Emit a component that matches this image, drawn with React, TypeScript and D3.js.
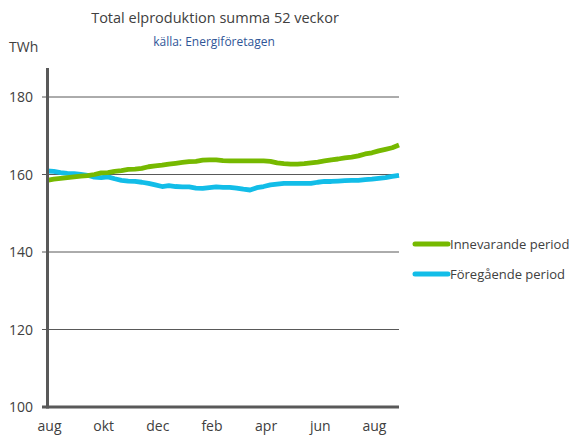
import React, { useEffect, useRef } from 'react';
import * as d3 from 'd3';

const monthLabels = ['aug', 'okt', 'dec', 'feb', 'apr', 'jun', 'aug'];
const labelEvery = 8;
const yTicks = [100, 120, 140, 160, 180];

const innevarande = [
  158.5, 158.8, 159.0, 159.2, 159.4, 159.6, 159.7, 160.0, 160.4, 160.5,
  160.8, 161.0, 161.3, 161.4, 161.6, 162.0, 162.2, 162.4, 162.7, 162.9,
  163.1, 163.3, 163.4, 163.7, 163.8, 163.8, 163.6, 163.5, 163.5, 163.5,
  163.5, 163.5, 163.5, 163.4, 163.0, 162.8, 162.7, 162.7, 162.8, 163.0,
  163.2, 163.5, 163.8, 164.0, 164.3, 164.5, 164.8, 165.3, 165.6, 166.1,
  166.5, 166.9, 167.6,
];
const foregaende = [
  160.9, 160.8, 160.5, 160.3, 160.2, 160.0, 159.8, 159.3, 159.2, 159.4,
  158.9, 158.5, 158.3, 158.2, 158.0, 157.7, 157.3, 156.9, 157.1, 156.9,
  156.8, 156.8, 156.5, 156.4, 156.6, 156.8, 156.7, 156.7, 156.5, 156.2,
  156.0, 156.6, 156.9, 157.3, 157.5, 157.7, 157.7, 157.7, 157.7, 157.7,
  158.0, 158.2, 158.2, 158.3, 158.4, 158.5, 158.5, 158.7, 158.8, 159.0,
  159.2, 159.5, 159.8,
];
const seriesNames = ['Innevarande period', 'Föregående period'];
const colors = ['#76b900', '#12bde8'];

const W = 569;
const H = 436;
const font = "'Open Sans', sans-serif";

const App = () => {
  const ref = useRef<SVGSVGElement>(null);

  useEffect(() => {
    const svg = d3.select(ref.current);
    svg.selectAll('*').remove();

    const x = d3.scaleLinear().domain([0, innevarande.length - 1]).range([47, 399]);
    const y = d3.scaleLinear().domain([100, 180]).range([407, 97]);

    // gridlines
    svg.selectAll('line.grid')
      .data(yTicks.filter((t) => t > 100))
      .enter()
      .append('line')
      .attr('x1', 42)
      .attr('x2', 399)
      .attr('y1', (d) => y(d))
      .attr('y2', (d) => y(d))
      .attr('stroke', '#595959')
      .attr('stroke-width', 1);

    svg.selectAll('text.ytick')
      .data(yTicks)
      .enter()
      .append('text')
      .attr('x', 33)
      .attr('y', (d) => y(d) + 5)
      .attr('text-anchor', 'end')
      .style('font-family', font)
      .style('font-size', '14px')
      .style('fill', '#404040')
      .text((d) => d);

    const line = d3.line<number>()
      .x((_, i) => x(i))
      .y((d) => y(d))
      .curve(d3.curveLinear);

    [foregaende, innevarande].forEach((s, k) => {
      svg.append('path')
        .datum(s)
        .attr('d', line)
        .attr('fill', 'none')
        .attr('stroke', colors[1 - k])
        .attr('stroke-width', 4.8)
        .attr('stroke-linejoin', 'round');
    });

    // axes
    svg.append('line')
      .attr('x1', 47.5).attr('x2', 47.5)
      .attr('y1', y(187.5)).attr('y2', y(100) + 1.5)
      .attr('stroke', '#595959').attr('stroke-width', 3);
    svg.append('line')
      .attr('x1', 42).attr('x2', 399)
      .attr('y1', y(100)).attr('y2', y(100))
      .attr('stroke', '#595959').attr('stroke-width', 3);

    svg.selectAll('text.xtick')
      .data(monthLabels)
      .enter()
      .append('text')
      .attr('x', (_, i) => x(i * labelEvery) + 2.5)
      .attr('y', 431)
      .attr('text-anchor', 'middle')
      .style('font-family', font)
      .style('font-size', '14px')
      .style('fill', '#404040')
      .text((d) => d);

    svg.append('text')
      .attr('x', 9).attr('y', 52)
      .style('font-family', font).style('font-size', '14px').style('fill', '#404040')
      .text('TWh');

    svg.append('text')
      .attr('x', 215).attr('y', 23)
      .attr('text-anchor', 'middle')
      .style('font-family', font).style('font-size', '14.5px').style('fill', '#404040')
      .text('Total elproduktion summa 52 veckor');

    svg.append('text')
      .attr('x', 214).attr('y', 46)
      .attr('text-anchor', 'middle')
      .style('font-family', font).style('font-size', '12px').style('fill', '#2f5597')
      .text('källa: Energiföretagen');

    seriesNames.forEach((name, k) => {
      const ly = 244 + k * 30;
      svg.append('line')
        .attr('x1', 415).attr('x2', 448)
        .attr('y1', ly).attr('y2', ly)
        .attr('stroke', colors[k]).attr('stroke-width', 5)
        .attr('stroke-linecap', 'round');
      svg.append('text')
        .attr('x', 450).attr('y', ly + 5)
        .style('font-family', font).style('font-size', '13px').style('fill', '#404040')
        .text(name);
    });
  }, []);

  return (
    <svg
      ref={ref}
      width={W}
      height={H}
      style={{ position: 'absolute', left: 0, top: 0, background: '#fff' }}
    />
  );
};

export default App;
